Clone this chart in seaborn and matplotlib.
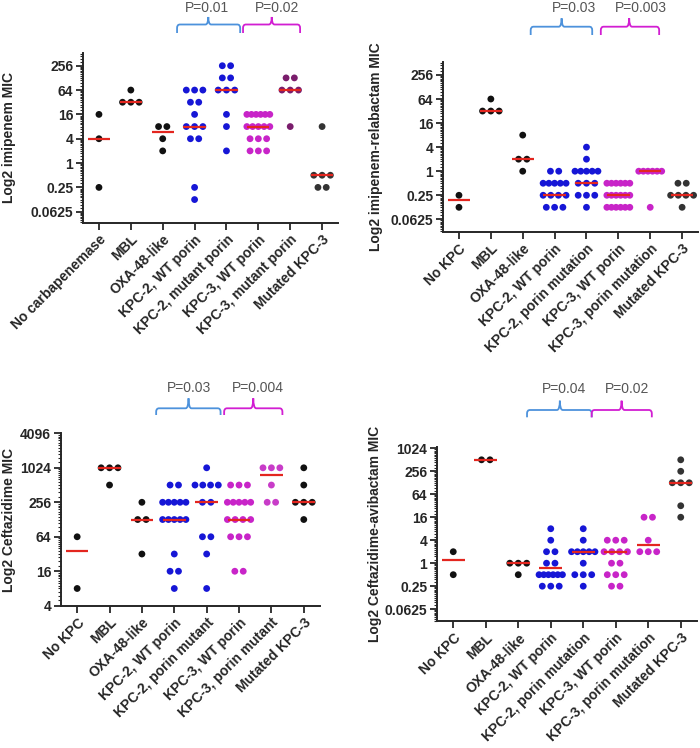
import numpy as np
import pandas as pd
import matplotlib
matplotlib.use('Agg')
import matplotlib.pyplot as plt
import seaborn as sns
from matplotlib import transforms
from matplotlib.path import Path
from matplotlib.patches import PathPatch
from matplotlib.ticker import FixedLocator, FixedFormatter, NullFormatter

# ---- data (MIC values, one list per isolate group) ----
labels_imi = ['No carbapenemase', 'MBL', 'OXA-48-like', 'KPC-2, WT porin', 'KPC-2, mutant porin',
              'KPC-3, WT porin', 'KPC-3, mutant porin', 'Mutated KPC-3']
labels_rel = ['No KPC', 'MBL', 'OXA-48-like', 'KPC-2, WT porin', 'KPC-2, porin mutation',
              'KPC-3, WT porin', 'KPC-3, porin mutation', 'Mutated KPC-3']
labels_caz = ['No KPC', 'MBL', 'OXA-48-like', 'KPC-2, WT porin', 'KPC-2, porin mutant',
              'KPC-3, WT porin', 'KPC-3, porin mutant', 'Mutated KPC-3']

imipenem_mic = [
    [16, 4, 0.25],
    [64, 32, 32, 32],
    [8, 8, 4, 2],
    [64] * 3 + [32] * 2 + [16] + [8] * 3 + [4] * 2 + [0.25, 0.125],
    [256] * 2 + [128] * 2 + [64] * 3 + [16, 8, 2],
    [16] * 6 + [8] * 5 + [4] * 3 + [2] * 3,
    [128] * 2 + [64] * 3 + [8],
    [8] + [0.5] * 3 + [0.25] * 2,
]
imipenem_median = [4, 32, 6, 8, 64, 8, 64, 0.5]

relebactam_mic = [
    [0.25, 0.125],
    [64, 32, 32, 32],
    [8, 2, 2, 1],
    [1] * 2 + [0.5] * 5 + [0.25] * 4 + [0.125] * 3,
    [4, 2] + [1] * 5 + [0.5] * 3 + [0.25] * 3 + [0.125],
    [0.5] * 6 + [0.25] * 6 + [0.125] * 6,
    [1] * 6 + [0.125],
    [0.5] * 2 + [0.25] * 4 + [0.125],
]
relebactam_median = [0.1875, 32, 2, 0.25, 0.5, 0.25, 1, 0.25]

ceftazidime_mic = [
    [64, 8],
    [1024] * 3 + [512],
    [256, 128, 128, 32],
    [512] * 2 + [256] * 5 + [128] * 5 + [32, 16, 16, 8],
    [1024] + [512] * 4 + [256] * 2 + [64] * 2 + [32, 8],
    [512] * 3 + [256] * 5 + [128] * 4 + [64] * 3 + [16] * 2,
    [1024] * 3 + [512] + [256] * 2,
    [1024, 512] + [256] * 3 + [128],
]
ceftazidime_median = [36, 1024, 128, 128, 256, 128, 768, 256]

avibactam_mic = [
    [2, 0.5],
    [512, 512],
    [1, 1, 1, 0.5],
    [8, 4, 2, 2, 1, 1] + [0.5] * 6 + [0.25] * 3,
    [8, 4] + [2] * 5 + [1] + [0.5] * 3 + [0.25],
    [4] * 3 + [2] * 4 + [1] * 2 + [0.5] * 3 + [0.25] * 2,
    [16, 16, 4, 2, 2, 2],
    [512, 256] + [128] * 3 + [32, 16],
]
avibactam_median = [1.25, 512, 1, 0.75, 2, 2, 3, 128]

BLACK, GRAY, BLUE = '#111111', '#333333', '#1616d6'
MAGENTA, PURPLE, PINK = '#c824c8', '#7a1d6c', '#c83cc8'
RED = '#e3261f'
BRACE_BLUE, BRACE_MAG = '#4d92dc', '#d21ed2'


def dot_frame(groups):
    # GraphPad-like layout: equal values sit side by side, centred on the group
    rows = []
    for i, vals in enumerate(groups):
        vals = np.asarray(vals, dtype=float)
        for v in np.unique(vals):
            n = int(np.sum(vals == v))
            step = 0.26 if n < 2 else min(0.26, 0.72 / (n - 1))
            for o in (np.arange(n) - (n - 1) / 2.) * step:
                rows.append((i, i + o, v))
    return pd.DataFrame(rows, columns=['group', 'x', 'mic'])


def draw_brace(fig, ax, x0, x1, xc, ypx, color):
    tr = transforms.blended_transform_factory(ax.transData, fig.transFigure)
    yb, yh, yt = [1 - p / 748. for p in ypx]
    dx, dy = 0.09, 3.5 / 748.
    verts = [(x0, yb), (x0, yh - dy), (x0, yh), (x0 + dx, yh), (xc - dx, yh), (xc, yh), (xc, yt),
             (xc, yh), (xc + dx, yh), (x1 - dx, yh), (x1, yh), (x1, yh - dy), (x1, yb)]
    codes = [Path.MOVETO, Path.LINETO, Path.CURVE3, Path.CURVE3, Path.LINETO, Path.CURVE3, Path.CURVE3,
             Path.CURVE3, Path.CURVE3, Path.LINETO, Path.CURVE3, Path.CURVE3, Path.LINETO]
    patch = PathPatch(Path(verts, codes), transform=tr, facecolor='none', edgecolor=color, lw=1.3, clip_on=False)
    ax.add_patch(patch)


def p_text(fig, ax, x, ypx, txt):
    tr = transforms.blended_transform_factory(ax.transData, fig.transFigure)
    ax.text(x, 1 - ypx / 748., txt, transform=tr, ha='center', va='center', fontsize=10, color='#555555')


def plot_panel(fig, rect, groups, medians, labels, colors, ylim, yticks, ylabel, label_x):
    ax = fig.add_axes(rect)
    df = dot_frame(groups)
    sns.scatterplot(data=df, x='x', y='mic', hue='group', palette=dict(enumerate(colors)), s=24,
                    linewidth=0, legend=False, ax=ax, zorder=2)
    pos = np.arange(len(medians))
    ax.hlines(medians, pos - 0.35, pos + 0.35, colors=RED, linewidth=1.6, zorder=3)
    ax.set_yscale('log', base=2)
    ax.set_ylim(*ylim)
    ax.set_xlim(-0.5, 7.5)
    ax.yaxis.set_major_locator(FixedLocator(yticks))
    ax.yaxis.set_major_formatter(FixedFormatter(['%g' % t for t in yticks]))
    minors = [t * (1 + k / 4.) for t in [yticks[0] / 4.] + list(yticks) for k in range(1, 12)]
    ax.yaxis.set_minor_locator(FixedLocator([m for m in minors if ylim[0] <= m <= ylim[1]]))
    ax.yaxis.set_minor_formatter(NullFormatter())
    ax.set_xticks(pos)
    ax.set_xticklabels(labels, rotation=45, ha='right', va='top', rotation_mode='anchor',
                       fontweight='bold', fontsize=10)
    for t in ax.get_yticklabels():
        t.set_fontweight('bold')
        t.set_fontsize(10)
    ax.tick_params(axis='both', which='major', length=5, width=1.3, direction='out', pad=2)
    ax.tick_params(axis='y', which='minor', length=2.5, width=0.8)
    ax.tick_params(axis='x', which='minor', length=0)
    sns.despine(ax=ax)
    for s in ('left', 'bottom'):
        ax.spines[s].set_linewidth(1.4)
    ax.set_xlabel('')
    ax.set_ylabel(ylabel, fontweight='bold', fontsize=10)
    ax.yaxis.set_label_coords(label_x, 0.5)
    return ax


if __name__ == '__main__':
    sns.set_style('ticks')
    plt.rcParams['font.family'] = ['Liberation Sans', 'DejaVu Sans']

    fig = plt.figure(figsize=(7, 7.48), dpi=100)
    log_ticks = [0.0625, 0.25, 1, 4, 16, 64, 256]

    ax = plot_panel(fig, [0.1186, 0.7023, 0.3643, 0.2269], imipenem_mic, imipenem_median, labels_imi,
                    [BLACK, BLACK, BLACK, BLUE, BLUE, MAGENTA, PURPLE, GRAY],
                    (2 ** -4.9, 2 ** 9.05), log_ticks, 'Log2 imipenem MIC', -0.262)
    draw_brace(fig, ax, 2.45, 4.43, 3.43, (33, 24.5, 17), BRACE_BLUE)
    draw_brace(fig, ax, 4.52, 6.31, 5.42, (33, 24.5, 17), BRACE_MAG)
    p_text(fig, ax, 3.39, 8, 'P=0.01')
    p_text(fig, ax, 5.58, 8, 'P=0.02')

    ax = plot_panel(fig, [0.6329, 0.6902, 0.3643, 0.2273], relebactam_mic, relebactam_median, labels_rel,
                    [BLACK, BLACK, BLACK, BLUE, BLUE, MAGENTA, MAGENTA, GRAY],
                    (2 ** -5.03, 2 ** 9.1), log_ticks, 'Log2 imipenem-relabactam MIC', -0.235)
    draw_brace(fig, ax, 2.25, 4.18, 3.22, (35, 26.7, 18.3), BRACE_BLUE)
    draw_brace(fig, ax, 4.45, 6.28, 5.34, (35, 26.7, 18.3), BRACE_MAG)
    p_text(fig, ax, 3.61, 8, 'P=0.03')
    p_text(fig, ax, 5.72, 8, 'P=0.003')

    ax = plot_panel(fig, [0.0871, 0.1902, 0.37, 0.2305], ceftazidime_mic, ceftazidime_median, labels_caz,
                    [BLACK, BLACK, BLACK, BLUE, BLUE, MAGENTA, PINK, BLACK],
                    (4, 4096), [4, 16, 64, 256, 1024, 4096], 'Log2 Ceftazidime MIC', -0.174)
    draw_brace(fig, ax, 2.44, 4.43, 3.44, (415, 408.3, 398.3), BRACE_BLUE)
    draw_brace(fig, ax, 4.54, 6.34, 5.44, (415, 408.3, 398.3), BRACE_MAG)
    p_text(fig, ax, 3.44, 388.3, 'P=0.03')
    p_text(fig, ax, 5.57, 388.3, 'P=0.004')

    ax = plot_panel(fig, [0.6243, 0.1698, 0.3714, 0.233], avibactam_mic, avibactam_median, labels_rel,
                    [BLACK, BLACK, BLACK, BLUE, BLUE, MAGENTA, MAGENTA, GRAY],
                    (2 ** -5.03, 2 ** 10.14), log_ticks + [1024], 'Log2 Ceftazidime-avibactam MIC', -0.212)
    draw_brace(fig, ax, 2.27, 4.26, 3.28, (417.3, 410, 400.7), BRACE_BLUE)
    draw_brace(fig, ax, 4.26, 6.11, 5.18, (417.3, 410, 400.7), BRACE_MAG)
    p_text(fig, ax, 3.42, 389.3, 'P=0.04')
    p_text(fig, ax, 5.34, 389.3, 'P=0.02')

    fig.savefig('out.png', dpi=100, facecolor='white')
